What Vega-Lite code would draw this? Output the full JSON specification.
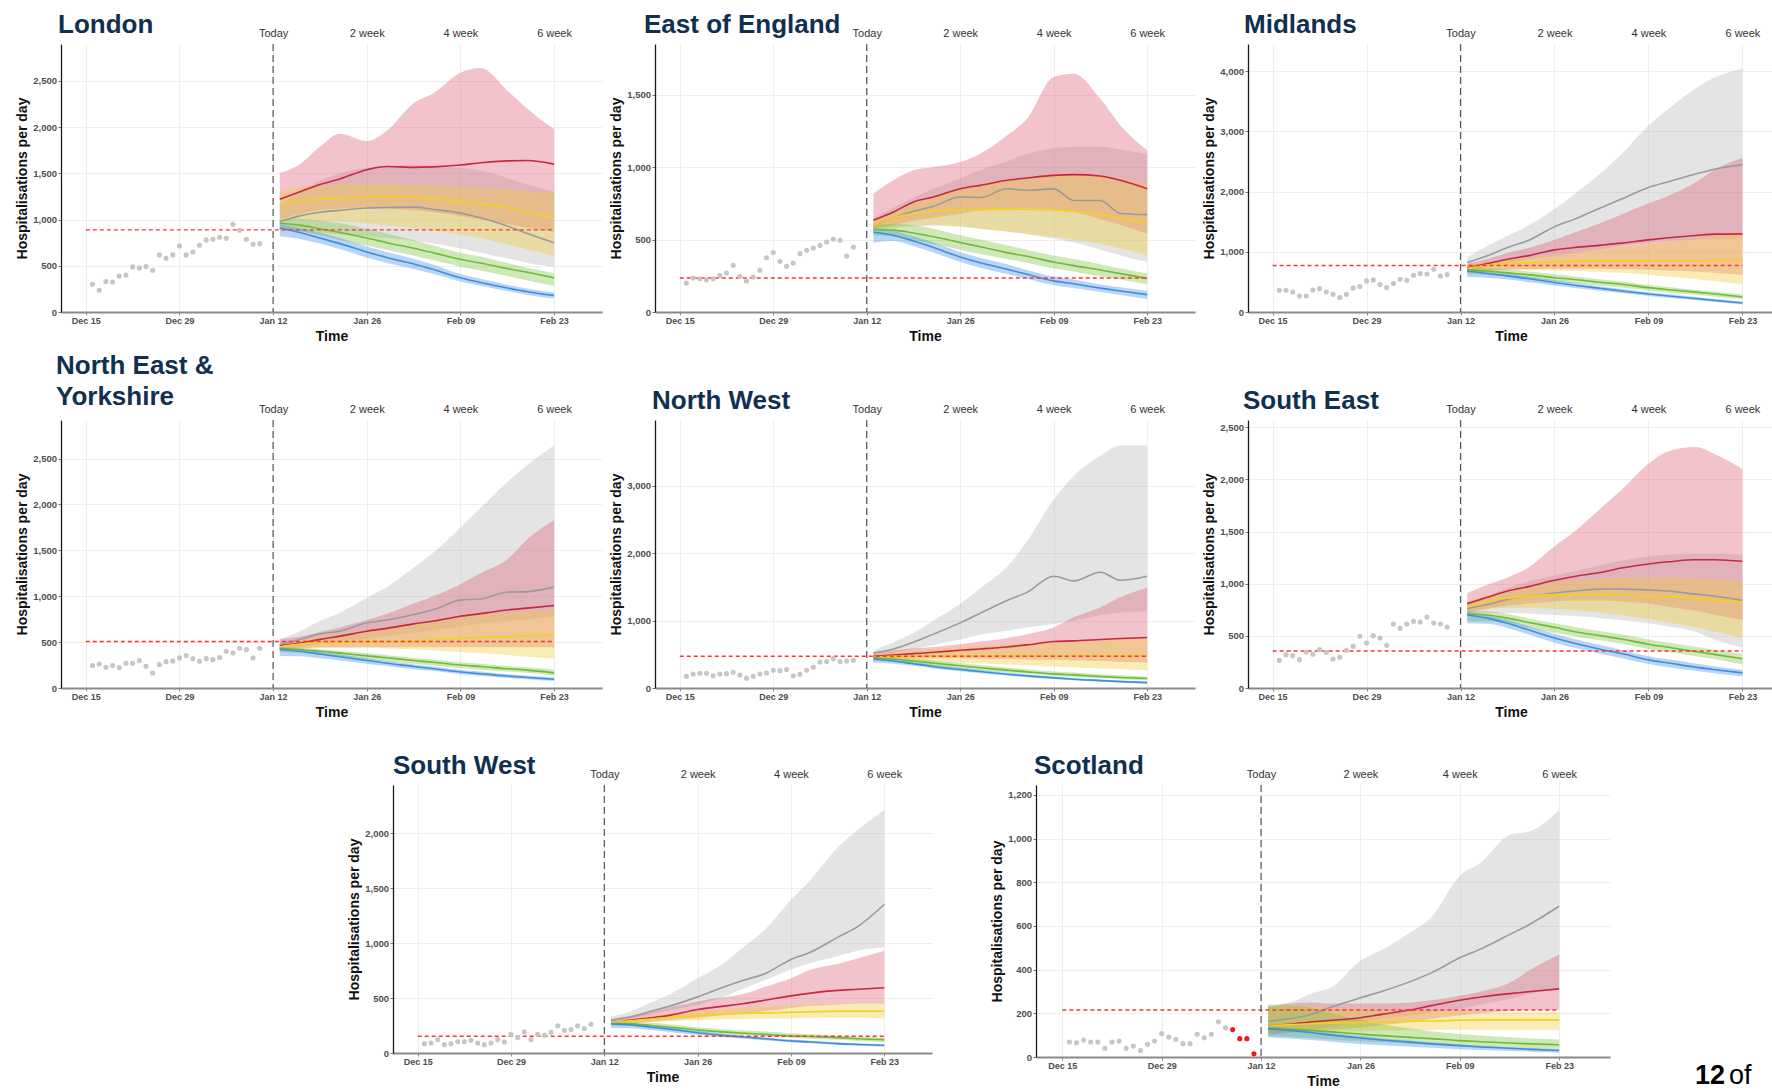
{
"$schema": "https://vega.github.io/schema/vega-lite/v6.json",
"background": "white",
"padding": {"left": 15, "top": 12, "right": 0, "bottom": 0},
"config": {
  "font": "Liberation Sans",
  "view": {"stroke": null},
  "title": {"anchor": "start", "frame": "group", "fontSize": 26, "fontWeight": "bold", "color": "#10304f", "offset": -11, "lineHeight": 31},
  "axisBottom": {"labelFontSize": 9, "labelFontWeight": "bold", "labelColor": "#4d4d4d", "domainColor": "#8a8a8a", "domainWidth": 2, "tickColor": "#8a8a8a", "tickSize": 3, "labelPadding": 1.5, "grid": true, "gridColor": "#eeeeee", "titleFontSize": 14, "titleFontWeight": "bold", "titleColor": "#111111", "titlePadding": 4, "labelFlush": false, "labelOverlap": false},
  "axisLeft": {"labelFontSize": 9.5, "labelFontWeight": "bold", "labelColor": "#4d4d4d", "domainColor": "#1a1a1a", "domainWidth": 1.3, "tickColor": "#777777", "tickSize": 3, "labelPadding": 1.5, "grid": true, "gridColor": "#eeeeee", "titleFontSize": 14, "titleFontWeight": "bold", "titleColor": "#111111", "titlePadding": 3, "labelOverlap": false},
  "axisTop": {"labelFontSize": 11, "labelColor": "#333333", "labelPadding": 6, "ticks": false, "domain": false, "grid": false, "labelFlush": false, "labelOverlap": false}
},
"datasets": {
"ref": [
{"r":"LON","v":889,"d1":"2020/12/15","d2":"2021/02/23"},
{"r":"EOE","v":235,"d1":"2020/12/15","d2":"2021/02/23"},
{"r":"MID","v":771,"d1":"2020/12/15","d2":"2021/02/23"},
{"r":"NEY","v":506,"d1":"2020/12/15","d2":"2021/02/23"},
{"r":"NW","v":471,"d1":"2020/12/15","d2":"2021/02/23"},
{"r":"SE","v":355,"d1":"2020/12/15","d2":"2021/02/23"},
{"r":"SW","v":152,"d1":"2020/12/15","d2":"2021/02/23"},
{"r":"SCO","v":215,"d1":"2020/12/15","d2":"2021/02/23"}
],
"pts": [
{"r":"LON","d":"2020/12/16","v":300},{"r":"LON","d":"2020/12/17","v":235},{"r":"LON","d":"2020/12/18","v":329},{"r":"LON","d":"2020/12/19","v":325},{"r":"LON","d":"2020/12/20","v":390},{"r":"LON","d":"2020/12/21","v":401},{"r":"LON","d":"2020/12/22","v":488},{"r":"LON","d":"2020/12/23","v":477},{"r":"LON","d":"2020/12/24","v":491},{"r":"LON","d":"2020/12/25","v":452},{"r":"LON","d":"2020/12/26","v":618},{"r":"LON","d":"2020/12/27","v":582},{"r":"LON","d":"2020/12/28","v":618},{"r":"LON","d":"2020/12/29","v":715},{"r":"LON","d":"2020/12/30","v":618},{"r":"LON","d":"2020/12/31","v":650},{"r":"LON","d":"2021/01/01","v":723},{"r":"LON","d":"2021/01/02","v":780},{"r":"LON","d":"2021/01/03","v":788},{"r":"LON","d":"2021/01/04","v":809},{"r":"LON","d":"2021/01/05","v":798},{"r":"LON","d":"2021/01/06","v":950},{"r":"LON","d":"2021/01/07","v":885},{"r":"LON","d":"2021/01/08","v":788},{"r":"LON","d":"2021/01/09","v":733},{"r":"LON","d":"2021/01/10","v":740},
{"r":"EOE","d":"2020/12/16","v":200},{"r":"EOE","d":"2020/12/17","v":235},{"r":"EOE","d":"2020/12/18","v":230},{"r":"EOE","d":"2020/12/19","v":223},{"r":"EOE","d":"2020/12/20","v":230},{"r":"EOE","d":"2020/12/21","v":253},{"r":"EOE","d":"2020/12/22","v":269},{"r":"EOE","d":"2020/12/23","v":322},{"r":"EOE","d":"2020/12/24","v":246},{"r":"EOE","d":"2020/12/25","v":214},{"r":"EOE","d":"2020/12/26","v":242},{"r":"EOE","d":"2020/12/27","v":288},{"r":"EOE","d":"2020/12/28","v":375},{"r":"EOE","d":"2020/12/29","v":410},{"r":"EOE","d":"2020/12/30","v":350},{"r":"EOE","d":"2020/12/31","v":315},{"r":"EOE","d":"2021/01/01","v":338},{"r":"EOE","d":"2021/01/02","v":403},{"r":"EOE","d":"2021/01/03","v":426},{"r":"EOE","d":"2021/01/04","v":442},{"r":"EOE","d":"2021/01/05","v":460},{"r":"EOE","d":"2021/01/06","v":483},{"r":"EOE","d":"2021/01/07","v":502},{"r":"EOE","d":"2021/01/08","v":495},{"r":"EOE","d":"2021/01/09","v":386},{"r":"EOE","d":"2021/01/10","v":449},
{"r":"MID","d":"2020/12/16","v":361},{"r":"MID","d":"2020/12/17","v":361},{"r":"MID","d":"2020/12/18","v":333},{"r":"MID","d":"2020/12/19","v":266},{"r":"MID","d":"2020/12/20","v":266},{"r":"MID","d":"2020/12/21","v":366},{"r":"MID","d":"2020/12/22","v":388},{"r":"MID","d":"2020/12/23","v":333},{"r":"MID","d":"2020/12/24","v":294},{"r":"MID","d":"2020/12/25","v":239},{"r":"MID","d":"2020/12/26","v":294},{"r":"MID","d":"2020/12/27","v":400},{"r":"MID","d":"2020/12/28","v":422},{"r":"MID","d":"2020/12/29","v":516},{"r":"MID","d":"2020/12/30","v":533},{"r":"MID","d":"2020/12/31","v":455},{"r":"MID","d":"2021/01/01","v":405},{"r":"MID","d":"2021/01/02","v":472},{"r":"MID","d":"2021/01/03","v":544},{"r":"MID","d":"2021/01/04","v":527},{"r":"MID","d":"2021/01/05","v":610},{"r":"MID","d":"2021/01/06","v":638},{"r":"MID","d":"2021/01/07","v":632},{"r":"MID","d":"2021/01/08","v":710},{"r":"MID","d":"2021/01/09","v":599},{"r":"MID","d":"2021/01/10","v":621},
{"r":"NEY","d":"2020/12/16","v":244},{"r":"NEY","d":"2020/12/17","v":262},{"r":"NEY","d":"2020/12/18","v":226},{"r":"NEY","d":"2020/12/19","v":244},{"r":"NEY","d":"2020/12/20","v":222},{"r":"NEY","d":"2020/12/21","v":269},{"r":"NEY","d":"2020/12/22","v":269},{"r":"NEY","d":"2020/12/23","v":298},{"r":"NEY","d":"2020/12/24","v":237},{"r":"NEY","d":"2020/12/25","v":164},{"r":"NEY","d":"2020/12/26","v":255},{"r":"NEY","d":"2020/12/27","v":287},{"r":"NEY","d":"2020/12/28","v":295},{"r":"NEY","d":"2020/12/29","v":328},{"r":"NEY","d":"2020/12/30","v":353},{"r":"NEY","d":"2020/12/31","v":320},{"r":"NEY","d":"2021/01/01","v":291},{"r":"NEY","d":"2021/01/02","v":320},{"r":"NEY","d":"2021/01/03","v":309},{"r":"NEY","d":"2021/01/04","v":331},{"r":"NEY","d":"2021/01/05","v":400},{"r":"NEY","d":"2021/01/06","v":382},{"r":"NEY","d":"2021/01/07","v":433},{"r":"NEY","d":"2021/01/08","v":418},{"r":"NEY","d":"2021/01/09","v":328},{"r":"NEY","d":"2021/01/10","v":433},
{"r":"NW","d":"2020/12/16","v":174},{"r":"NW","d":"2020/12/17","v":208},{"r":"NW","d":"2020/12/18","v":218},{"r":"NW","d":"2020/12/19","v":218},{"r":"NW","d":"2020/12/20","v":183},{"r":"NW","d":"2020/12/21","v":208},{"r":"NW","d":"2020/12/22","v":213},{"r":"NW","d":"2020/12/23","v":233},{"r":"NW","d":"2020/12/24","v":193},{"r":"NW","d":"2020/12/25","v":144},{"r":"NW","d":"2020/12/26","v":174},{"r":"NW","d":"2020/12/27","v":208},{"r":"NW","d":"2020/12/28","v":223},{"r":"NW","d":"2020/12/29","v":263},{"r":"NW","d":"2020/12/30","v":258},{"r":"NW","d":"2020/12/31","v":273},{"r":"NW","d":"2021/01/01","v":183},{"r":"NW","d":"2021/01/02","v":203},{"r":"NW","d":"2021/01/03","v":263},{"r":"NW","d":"2021/01/04","v":307},{"r":"NW","d":"2021/01/05","v":387},{"r":"NW","d":"2021/01/06","v":392},{"r":"NW","d":"2021/01/07","v":436},{"r":"NW","d":"2021/01/08","v":392},{"r":"NW","d":"2021/01/09","v":402},{"r":"NW","d":"2021/01/10","v":412},
{"r":"SE","d":"2020/12/16","v":265},{"r":"SE","d":"2020/12/17","v":320},{"r":"SE","d":"2020/12/18","v":310},{"r":"SE","d":"2020/12/19","v":272},{"r":"SE","d":"2020/12/20","v":345},{"r":"SE","d":"2020/12/21","v":323},{"r":"SE","d":"2020/12/22","v":368},{"r":"SE","d":"2020/12/23","v":342},{"r":"SE","d":"2020/12/24","v":278},{"r":"SE","d":"2020/12/25","v":294},{"r":"SE","d":"2020/12/26","v":361},{"r":"SE","d":"2020/12/27","v":400},{"r":"SE","d":"2020/12/28","v":496},{"r":"SE","d":"2020/12/29","v":432},{"r":"SE","d":"2020/12/30","v":502},{"r":"SE","d":"2020/12/31","v":480},{"r":"SE","d":"2021/01/01","v":409},{"r":"SE","d":"2021/01/02","v":614},{"r":"SE","d":"2021/01/03","v":572},{"r":"SE","d":"2021/01/04","v":614},{"r":"SE","d":"2021/01/05","v":639},{"r":"SE","d":"2021/01/06","v":633},{"r":"SE","d":"2021/01/07","v":681},{"r":"SE","d":"2021/01/08","v":623},{"r":"SE","d":"2021/01/09","v":614},{"r":"SE","d":"2021/01/10","v":585},
{"r":"SW","d":"2020/12/16","v":85},{"r":"SW","d":"2020/12/17","v":91},{"r":"SW","d":"2020/12/18","v":122},{"r":"SW","d":"2020/12/19","v":76},{"r":"SW","d":"2020/12/20","v":85},{"r":"SW","d":"2020/12/21","v":103},{"r":"SW","d":"2020/12/22","v":103},{"r":"SW","d":"2020/12/23","v":116},{"r":"SW","d":"2020/12/24","v":91},{"r":"SW","d":"2020/12/25","v":76},{"r":"SW","d":"2020/12/26","v":91},{"r":"SW","d":"2020/12/27","v":122},{"r":"SW","d":"2020/12/28","v":100},{"r":"SW","d":"2020/12/29","v":170},{"r":"SW","d":"2020/12/30","v":140},{"r":"SW","d":"2020/12/31","v":192},{"r":"SW","d":"2021/01/01","v":122},{"r":"SW","d":"2021/01/02","v":170},{"r":"SW","d":"2021/01/03","v":161},{"r":"SW","d":"2021/01/04","v":189},{"r":"SW","d":"2021/01/05","v":247},{"r":"SW","d":"2021/01/06","v":207},{"r":"SW","d":"2021/01/07","v":213},{"r":"SW","d":"2021/01/08","v":247},{"r":"SW","d":"2021/01/09","v":222},{"r":"SW","d":"2021/01/10","v":262},
{"r":"SCO","d":"2020/12/16","v":69},{"r":"SCO","d":"2020/12/17","v":65},{"r":"SCO","d":"2020/12/18","v":78},{"r":"SCO","d":"2020/12/19","v":69},{"r":"SCO","d":"2020/12/20","v":69},{"r":"SCO","d":"2020/12/21","v":40},{"r":"SCO","d":"2020/12/22","v":69},{"r":"SCO","d":"2020/12/23","v":73},{"r":"SCO","d":"2020/12/24","v":40},{"r":"SCO","d":"2020/12/25","v":50},{"r":"SCO","d":"2020/12/26","v":30},{"r":"SCO","d":"2020/12/27","v":58},{"r":"SCO","d":"2020/12/28","v":73},{"r":"SCO","d":"2020/12/29","v":107},{"r":"SCO","d":"2020/12/30","v":91},{"r":"SCO","d":"2020/12/31","v":81},{"r":"SCO","d":"2021/01/01","v":61},{"r":"SCO","d":"2021/01/02","v":61},{"r":"SCO","d":"2021/01/03","v":104},{"r":"SCO","d":"2021/01/04","v":88},{"r":"SCO","d":"2021/01/05","v":104},{"r":"SCO","d":"2021/01/06","v":161},{"r":"SCO","d":"2021/01/07","v":134},{"r":"SCO","d":"2021/01/08","v":126,"inc":true},{"r":"SCO","d":"2021/01/09","v":84,"inc":true},{"r":"SCO","d":"2021/01/10","v":84,"inc":true},{"r":"SCO","d":"2021/01/11","v":15,"inc":true}
],
"proj": [
{"r":"LON","s":1,"d":"2021/01/13","lo":880,"hi":1150,"m":980},{"r":"LON","s":1,"d":"2021/01/16","lo":880,"hi":1300,"m":1040},{"r":"LON","s":1,"d":"2021/01/19","lo":860,"hi":1420,"m":1080},{"r":"LON","s":1,"d":"2021/01/22","lo":840,"hi":1500,"m":1100},{"r":"LON","s":1,"d":"2021/01/26","lo":820,"hi":1560,"m":1125},{"r":"LON","s":1,"d":"2021/01/29","lo":800,"hi":1580,"m":1130},{"r":"LON","s":1,"d":"2021/02/02","lo":770,"hi":1590,"m":1135},{"r":"LON","s":1,"d":"2021/02/05","lo":740,"hi":1580,"m":1110},{"r":"LON","s":1,"d":"2021/02/09","lo":690,"hi":1560,"m":1070},{"r":"LON","s":1,"d":"2021/02/12","lo":640,"hi":1530,"m":1020},{"r":"LON","s":1,"d":"2021/02/16","lo":580,"hi":1450,"m":930},{"r":"LON","s":1,"d":"2021/02/19","lo":530,"hi":1380,"m":850},{"r":"LON","s":1,"d":"2021/02/23","lo":490,"hi":1300,"m":750},
{"r":"LON","s":2,"d":"2021/01/13","lo":1000,"hi":1503,"m":1220},{"r":"LON","s":2,"d":"2021/01/16","lo":1060,"hi":1600,"m":1300},{"r":"LON","s":2,"d":"2021/01/19","lo":1100,"hi":1790,"m":1380},{"r":"LON","s":2,"d":"2021/01/22","lo":1120,"hi":1930,"m":1440},{"r":"LON","s":2,"d":"2021/01/26","lo":1130,"hi":1850,"m":1540},{"r":"LON","s":2,"d":"2021/01/29","lo":1120,"hi":1962,"m":1575},{"r":"LON","s":2,"d":"2021/02/02","lo":1100,"hi":2260,"m":1565},{"r":"LON","s":2,"d":"2021/02/05","lo":1080,"hi":2370,"m":1570},{"r":"LON","s":2,"d":"2021/02/09","lo":1040,"hi":2590,"m":1590},{"r":"LON","s":2,"d":"2021/02/12","lo":1000,"hi":2640,"m":1615},{"r":"LON","s":2,"d":"2021/02/16","lo":950,"hi":2400,"m":1635},{"r":"LON","s":2,"d":"2021/02/19","lo":910,"hi":2200,"m":1640},{"r":"LON","s":2,"d":"2021/02/23","lo":870,"hi":1980,"m":1600},
{"r":"LON","s":3,"d":"2021/01/13","lo":1000,"hi":1300,"m":1150},{"r":"LON","s":3,"d":"2021/01/16","lo":1000,"hi":1350,"m":1210},{"r":"LON","s":3,"d":"2021/01/19","lo":990,"hi":1370,"m":1220},{"r":"LON","s":3,"d":"2021/01/22","lo":980,"hi":1380,"m":1230},{"r":"LON","s":3,"d":"2021/01/26","lo":960,"hi":1390,"m":1245},{"r":"LON","s":3,"d":"2021/01/29","lo":940,"hi":1390,"m":1250},{"r":"LON","s":3,"d":"2021/02/02","lo":910,"hi":1380,"m":1245},{"r":"LON","s":3,"d":"2021/02/05","lo":880,"hi":1370,"m":1225},{"r":"LON","s":3,"d":"2021/02/09","lo":840,"hi":1360,"m":1195},{"r":"LON","s":3,"d":"2021/02/12","lo":800,"hi":1350,"m":1170},{"r":"LON","s":3,"d":"2021/02/16","lo":730,"hi":1330,"m":1130},{"r":"LON","s":3,"d":"2021/02/19","lo":680,"hi":1310,"m":1080},{"r":"LON","s":3,"d":"2021/02/23","lo":610,"hi":1290,"m":1020},
{"r":"LON","s":4,"d":"2021/01/13","lo":900,"hi":1000,"m":960},{"r":"LON","s":4,"d":"2021/01/16","lo":870,"hi":1010,"m":940},{"r":"LON","s":4,"d":"2021/01/19","lo":830,"hi":990,"m":900},{"r":"LON","s":4,"d":"2021/01/22","lo":780,"hi":960,"m":860},{"r":"LON","s":4,"d":"2021/01/26","lo":720,"hi":900,"m":800},{"r":"LON","s":4,"d":"2021/01/29","lo":670,"hi":850,"m":750},{"r":"LON","s":4,"d":"2021/02/02","lo":610,"hi":780,"m":690},{"r":"LON","s":4,"d":"2021/02/05","lo":560,"hi":720,"m":640},{"r":"LON","s":4,"d":"2021/02/09","lo":490,"hi":640,"m":570},{"r":"LON","s":4,"d":"2021/02/12","lo":450,"hi":600,"m":530},{"r":"LON","s":4,"d":"2021/02/16","lo":390,"hi":530,"m":470},{"r":"LON","s":4,"d":"2021/02/19","lo":340,"hi":480,"m":430},{"r":"LON","s":4,"d":"2021/02/23","lo":280,"hi":420,"m":370},
{"r":"LON","s":5,"d":"2021/01/13","lo":820,"hi":950,"m":910},{"r":"LON","s":5,"d":"2021/01/16","lo":790,"hi":910,"m":860},{"r":"LON","s":5,"d":"2021/01/19","lo":740,"hi":860,"m":800},{"r":"LON","s":5,"d":"2021/01/22","lo":680,"hi":800,"m":740},{"r":"LON","s":5,"d":"2021/01/26","lo":590,"hi":710,"m":650},{"r":"LON","s":5,"d":"2021/01/29","lo":530,"hi":650,"m":590},{"r":"LON","s":5,"d":"2021/02/02","lo":465,"hi":575,"m":520},{"r":"LON","s":5,"d":"2021/02/05","lo":410,"hi":510,"m":460},{"r":"LON","s":5,"d":"2021/02/09","lo":330,"hi":410,"m":370},{"r":"LON","s":5,"d":"2021/02/12","lo":285,"hi":360,"m":320},{"r":"LON","s":5,"d":"2021/02/16","lo":225,"hi":295,"m":260},{"r":"LON","s":5,"d":"2021/02/19","lo":185,"hi":255,"m":220},{"r":"LON","s":5,"d":"2021/02/23","lo":145,"hi":210,"m":180},
{"r":"EOE","s":1,"d":"2021/01/13","lo":560,"hi":650,"m":600},{"r":"EOE","s":1,"d":"2021/01/16","lo":580,"hi":720,"m":650},{"r":"EOE","s":1,"d":"2021/01/19","lo":590,"hi":790,"m":695},{"r":"EOE","s":1,"d":"2021/01/22","lo":595,"hi":850,"m":730},{"r":"EOE","s":1,"d":"2021/01/26","lo":590,"hi":920,"m":794},{"r":"EOE","s":1,"d":"2021/01/29","lo":575,"hi":980,"m":790},{"r":"EOE","s":1,"d":"2021/02/02","lo":555,"hi":1040,"m":851},{"r":"EOE","s":1,"d":"2021/02/05","lo":535,"hi":1090,"m":840},{"r":"EOE","s":1,"d":"2021/02/09","lo":505,"hi":1130,"m":850},{"r":"EOE","s":1,"d":"2021/02/12","lo":480,"hi":1140,"m":770},{"r":"EOE","s":1,"d":"2021/02/16","lo":430,"hi":1140,"m":770},{"r":"EOE","s":1,"d":"2021/02/19","lo":390,"hi":1120,"m":680},{"r":"EOE","s":1,"d":"2021/02/23","lo":345,"hi":1090,"m":672},
{"r":"EOE","s":2,"d":"2021/01/13","lo":570,"hi":817,"m":633},{"r":"EOE","s":2,"d":"2021/01/16","lo":600,"hi":909,"m":690},{"r":"EOE","s":2,"d":"2021/01/19","lo":630,"hi":978,"m":760},{"r":"EOE","s":2,"d":"2021/01/22","lo":650,"hi":1001,"m":794},{"r":"EOE","s":2,"d":"2021/01/26","lo":680,"hi":1035,"m":851},{"r":"EOE","s":2,"d":"2021/01/29","lo":700,"hi":1093,"m":874},{"r":"EOE","s":2,"d":"2021/02/02","lo":710,"hi":1219,"m":909},{"r":"EOE","s":2,"d":"2021/02/05","lo":715,"hi":1334,"m":925},{"r":"EOE","s":2,"d":"2021/02/09","lo":710,"hi":1622,"m":943},{"r":"EOE","s":2,"d":"2021/02/12","lo":690,"hi":1645,"m":948},{"r":"EOE","s":2,"d":"2021/02/16","lo":640,"hi":1472,"m":939},{"r":"EOE","s":2,"d":"2021/02/19","lo":600,"hi":1288,"m":909},{"r":"EOE","s":2,"d":"2021/02/23","lo":540,"hi":1116,"m":851},
{"r":"EOE","s":3,"d":"2021/01/13","lo":570,"hi":640,"m":600},{"r":"EOE","s":3,"d":"2021/01/16","lo":590,"hi":700,"m":650},{"r":"EOE","s":3,"d":"2021/01/19","lo":600,"hi":760,"m":680},{"r":"EOE","s":3,"d":"2021/01/22","lo":600,"hi":800,"m":695},{"r":"EOE","s":3,"d":"2021/01/26","lo":590,"hi":850,"m":705},{"r":"EOE","s":3,"d":"2021/01/29","lo":575,"hi":880,"m":708},{"r":"EOE","s":3,"d":"2021/02/02","lo":555,"hi":910,"m":710},{"r":"EOE","s":3,"d":"2021/02/05","lo":540,"hi":930,"m":708},{"r":"EOE","s":3,"d":"2021/02/09","lo":520,"hi":950,"m":705},{"r":"EOE","s":3,"d":"2021/02/12","lo":500,"hi":950,"m":695},{"r":"EOE","s":3,"d":"2021/02/16","lo":470,"hi":940,"m":670},{"r":"EOE","s":3,"d":"2021/02/19","lo":440,"hi":920,"m":650},{"r":"EOE","s":3,"d":"2021/02/23","lo":390,"hi":880,"m":615},
{"r":"EOE","s":4,"d":"2021/01/13","lo":530,"hi":600,"m":570},{"r":"EOE","s":4,"d":"2021/01/16","lo":520,"hi":610,"m":565},{"r":"EOE","s":4,"d":"2021/01/19","lo":495,"hi":600,"m":545},{"r":"EOE","s":4,"d":"2021/01/22","lo":470,"hi":575,"m":520},{"r":"EOE","s":4,"d":"2021/01/26","lo":430,"hi":530,"m":480},{"r":"EOE","s":4,"d":"2021/01/29","lo":400,"hi":500,"m":450},{"r":"EOE","s":4,"d":"2021/02/02","lo":365,"hi":460,"m":410},{"r":"EOE","s":4,"d":"2021/02/05","lo":340,"hi":430,"m":385},{"r":"EOE","s":4,"d":"2021/02/09","lo":300,"hi":390,"m":345},{"r":"EOE","s":4,"d":"2021/02/12","lo":280,"hi":365,"m":320},{"r":"EOE","s":4,"d":"2021/02/16","lo":245,"hi":330,"m":290},{"r":"EOE","s":4,"d":"2021/02/19","lo":225,"hi":300,"m":265},{"r":"EOE","s":4,"d":"2021/02/23","lo":190,"hi":265,"m":232},
{"r":"EOE","s":5,"d":"2021/01/13","lo":480,"hi":575,"m":550},{"r":"EOE","s":5,"d":"2021/01/16","lo":490,"hi":560,"m":530},{"r":"EOE","s":5,"d":"2021/01/19","lo":455,"hi":525,"m":490},{"r":"EOE","s":5,"d":"2021/01/22","lo":410,"hi":480,"m":445},{"r":"EOE","s":5,"d":"2021/01/26","lo":345,"hi":415,"m":380},{"r":"EOE","s":5,"d":"2021/01/29","lo":305,"hi":375,"m":340},{"r":"EOE","s":5,"d":"2021/02/02","lo":262,"hi":330,"m":295},{"r":"EOE","s":5,"d":"2021/02/05","lo":230,"hi":290,"m":260},{"r":"EOE","s":5,"d":"2021/02/09","lo":185,"hi":245,"m":215},{"r":"EOE","s":5,"d":"2021/02/12","lo":165,"hi":225,"m":195},{"r":"EOE","s":5,"d":"2021/02/16","lo":138,"hi":190,"m":165},{"r":"EOE","s":5,"d":"2021/02/19","lo":118,"hi":170,"m":145},{"r":"EOE","s":5,"d":"2021/02/23","lo":90,"hi":145,"m":120},
{"r":"MID","s":1,"d":"2021/01/13","lo":700,"hi":904,"m":821},{"r":"MID","s":1,"d":"2021/01/16","lo":760,"hi":1098,"m":932},{"r":"MID","s":1,"d":"2021/01/19","lo":820,"hi":1265,"m":1071},{"r":"MID","s":1,"d":"2021/01/22","lo":870,"hi":1431,"m":1182},{"r":"MID","s":1,"d":"2021/01/26","lo":930,"hi":1709,"m":1415},{"r":"MID","s":1,"d":"2021/01/29","lo":980,"hi":1958,"m":1542},{"r":"MID","s":1,"d":"2021/02/02","lo":1040,"hi":2319,"m":1737},{"r":"MID","s":1,"d":"2021/02/05","lo":1100,"hi":2624,"m":1875},{"r":"MID","s":1,"d":"2021/02/09","lo":1150,"hi":3096,"m":2069},{"r":"MID","s":1,"d":"2021/02/12","lo":1180,"hi":3373,"m":2164},{"r":"MID","s":1,"d":"2021/02/16","lo":1200,"hi":3706,"m":2291},{"r":"MID","s":1,"d":"2021/02/19","lo":1210,"hi":3900,"m":2375},{"r":"MID","s":1,"d":"2021/02/23","lo":1220,"hi":4039,"m":2447},
{"r":"MID","s":2,"d":"2021/01/13","lo":650,"hi":800,"m":732},{"r":"MID","s":2,"d":"2021/01/16","lo":680,"hi":880,"m":804},{"r":"MID","s":2,"d":"2021/01/19","lo":700,"hi":980,"m":877},{"r":"MID","s":2,"d":"2021/01/22","lo":710,"hi":1060,"m":932},{"r":"MID","s":2,"d":"2021/01/26","lo":720,"hi":1200,"m":1032},{"r":"MID","s":2,"d":"2021/01/29","lo":720,"hi":1320,"m":1071},{"r":"MID","s":2,"d":"2021/02/02","lo":720,"hi":1480,"m":1110},{"r":"MID","s":2,"d":"2021/02/05","lo":710,"hi":1620,"m":1143},{"r":"MID","s":2,"d":"2021/02/09","lo":700,"hi":1800,"m":1198},{"r":"MID","s":2,"d":"2021/02/12","lo":690,"hi":1930,"m":1232},{"r":"MID","s":2,"d":"2021/02/16","lo":670,"hi":2150,"m":1270},{"r":"MID","s":2,"d":"2021/02/19","lo":650,"hi":2370,"m":1293},{"r":"MID","s":2,"d":"2021/02/23","lo":620,"hi":2560,"m":1298},
{"r":"MID","s":3,"d":"2021/01/13","lo":680,"hi":780,"m":720},{"r":"MID","s":3,"d":"2021/01/16","lo":700,"hi":830,"m":780},{"r":"MID","s":3,"d":"2021/01/19","lo":700,"hi":870,"m":800},{"r":"MID","s":3,"d":"2021/01/22","lo":695,"hi":900,"m":815},{"r":"MID","s":3,"d":"2021/01/26","lo":690,"hi":950,"m":830},{"r":"MID","s":3,"d":"2021/01/29","lo":680,"hi":990,"m":840},{"r":"MID","s":3,"d":"2021/02/02","lo":665,"hi":1040,"m":845},{"r":"MID","s":3,"d":"2021/02/05","lo":650,"hi":1080,"m":845},{"r":"MID","s":3,"d":"2021/02/09","lo":620,"hi":1130,"m":845},{"r":"MID","s":3,"d":"2021/02/12","lo":590,"hi":1170,"m":848},{"r":"MID","s":3,"d":"2021/02/16","lo":550,"hi":1220,"m":850},{"r":"MID","s":3,"d":"2021/02/19","lo":510,"hi":1260,"m":855},{"r":"MID","s":3,"d":"2021/02/23","lo":460,"hi":1300,"m":860},
{"r":"MID","s":4,"d":"2021/01/13","lo":630,"hi":760,"m":700},{"r":"MID","s":4,"d":"2021/01/16","lo":615,"hi":735,"m":680},{"r":"MID","s":4,"d":"2021/01/19","lo":590,"hi":705,"m":650},{"r":"MID","s":4,"d":"2021/01/22","lo":560,"hi":675,"m":620},{"r":"MID","s":4,"d":"2021/01/26","lo":510,"hi":625,"m":570},{"r":"MID","s":4,"d":"2021/01/29","lo":480,"hi":590,"m":540},{"r":"MID","s":4,"d":"2021/02/02","lo":435,"hi":540,"m":490},{"r":"MID","s":4,"d":"2021/02/05","lo":405,"hi":505,"m":460},{"r":"MID","s":4,"d":"2021/02/09","lo":355,"hi":450,"m":405},{"r":"MID","s":4,"d":"2021/02/12","lo":320,"hi":415,"m":370},{"r":"MID","s":4,"d":"2021/02/16","lo":285,"hi":370,"m":330},{"r":"MID","s":4,"d":"2021/02/19","lo":255,"hi":340,"m":300},{"r":"MID","s":4,"d":"2021/02/23","lo":210,"hi":290,"m":250},
{"r":"MID","s":5,"d":"2021/01/13","lo":580,"hi":720,"m":680},{"r":"MID","s":5,"d":"2021/01/16","lo":570,"hi":680,"m":640},{"r":"MID","s":5,"d":"2021/01/19","lo":540,"hi":640,"m":600},{"r":"MID","s":5,"d":"2021/01/22","lo":500,"hi":595,"m":555},{"r":"MID","s":5,"d":"2021/01/26","lo":440,"hi":530,"m":490},{"r":"MID","s":5,"d":"2021/01/29","lo":400,"hi":485,"m":445},{"r":"MID","s":5,"d":"2021/02/02","lo":350,"hi":425,"m":390},{"r":"MID","s":5,"d":"2021/02/05","lo":315,"hi":385,"m":350},{"r":"MID","s":5,"d":"2021/02/09","lo":265,"hi":330,"m":300},{"r":"MID","s":5,"d":"2021/02/12","lo":235,"hi":295,"m":265},{"r":"MID","s":5,"d":"2021/02/16","lo":195,"hi":250,"m":225},{"r":"MID","s":5,"d":"2021/02/19","lo":165,"hi":215,"m":190},{"r":"MID","s":5,"d":"2021/02/23","lo":125,"hi":175,"m":150},
{"r":"NEY","s":1,"d":"2021/01/13","lo":420,"hi":530,"m":470},{"r":"NEY","s":1,"d":"2021/01/16","lo":450,"hi":619,"m":528},{"r":"NEY","s":1,"d":"2021/01/19","lo":480,"hi":730,"m":590},{"r":"NEY","s":1,"d":"2021/01/22","lo":510,"hi":820,"m":620},{"r":"NEY","s":1,"d":"2021/01/26","lo":540,"hi":983,"m":710},{"r":"NEY","s":1,"d":"2021/01/29","lo":570,"hi":1100,"m":740},{"r":"NEY","s":1,"d":"2021/02/02","lo":600,"hi":1310,"m":800},{"r":"NEY","s":1,"d":"2021/02/05","lo":630,"hi":1480,"m":855},{"r":"NEY","s":1,"d":"2021/02/09","lo":670,"hi":1747,"m":957},{"r":"NEY","s":1,"d":"2021/02/12","lo":700,"hi":1960,"m":970},{"r":"NEY","s":1,"d":"2021/02/16","lo":730,"hi":2245,"m":1044},{"r":"NEY","s":1,"d":"2021/02/19","lo":750,"hi":2430,"m":1050},{"r":"NEY","s":1,"d":"2021/02/23","lo":770,"hi":2646,"m":1099},
{"r":"NEY","s":2,"d":"2021/01/13","lo":420,"hi":530,"m":460},{"r":"NEY","s":2,"d":"2021/01/16","lo":430,"hi":560,"m":490},{"r":"NEY","s":2,"d":"2021/01/19","lo":440,"hi":610,"m":530},{"r":"NEY","s":2,"d":"2021/01/22","lo":440,"hi":660,"m":565},{"r":"NEY","s":2,"d":"2021/01/26","lo":445,"hi":740,"m":619},{"r":"NEY","s":2,"d":"2021/01/29","lo":445,"hi":810,"m":650},{"r":"NEY","s":2,"d":"2021/02/02","lo":445,"hi":920,"m":699},{"r":"NEY","s":2,"d":"2021/02/05","lo":445,"hi":1000,"m":730},{"r":"NEY","s":2,"d":"2021/02/09","lo":445,"hi":1130,"m":782},{"r":"NEY","s":2,"d":"2021/02/12","lo":445,"hi":1250,"m":810},{"r":"NEY","s":2,"d":"2021/02/16","lo":445,"hi":1400,"m":850},{"r":"NEY","s":2,"d":"2021/02/19","lo":445,"hi":1620,"m":870},{"r":"NEY","s":2,"d":"2021/02/23","lo":445,"hi":1830,"m":899},
{"r":"NEY","s":3,"d":"2021/01/13","lo":420,"hi":480,"m":450},{"r":"NEY","s":3,"d":"2021/01/16","lo":430,"hi":520,"m":480},{"r":"NEY","s":3,"d":"2021/01/19","lo":440,"hi":560,"m":495},{"r":"NEY","s":3,"d":"2021/01/22","lo":440,"hi":590,"m":500},{"r":"NEY","s":3,"d":"2021/01/26","lo":440,"hi":630,"m":505},{"r":"NEY","s":3,"d":"2021/01/29","lo":430,"hi":660,"m":510},{"r":"NEY","s":3,"d":"2021/02/02","lo":420,"hi":700,"m":515},{"r":"NEY","s":3,"d":"2021/02/05","lo":410,"hi":730,"m":525},{"r":"NEY","s":3,"d":"2021/02/09","lo":390,"hi":770,"m":540},{"r":"NEY","s":3,"d":"2021/02/12","lo":380,"hi":800,"m":550},{"r":"NEY","s":3,"d":"2021/02/16","lo":360,"hi":820,"m":560},{"r":"NEY","s":3,"d":"2021/02/19","lo":340,"hi":840,"m":570},{"r":"NEY","s":3,"d":"2021/02/23","lo":320,"hi":855,"m":575},
{"r":"NEY","s":4,"d":"2021/01/13","lo":390,"hi":450,"m":430},{"r":"NEY","s":4,"d":"2021/01/16","lo":380,"hi":440,"m":420},{"r":"NEY","s":4,"d":"2021/01/19","lo":360,"hi":425,"m":400},{"r":"NEY","s":4,"d":"2021/01/22","lo":340,"hi":405,"m":380},{"r":"NEY","s":4,"d":"2021/01/26","lo":310,"hi":380,"m":350},{"r":"NEY","s":4,"d":"2021/01/29","lo":290,"hi":360,"m":330},{"r":"NEY","s":4,"d":"2021/02/02","lo":265,"hi":330,"m":300},{"r":"NEY","s":4,"d":"2021/02/05","lo":245,"hi":310,"m":280},{"r":"NEY","s":4,"d":"2021/02/09","lo":215,"hi":280,"m":250},{"r":"NEY","s":4,"d":"2021/02/12","lo":200,"hi":265,"m":235},{"r":"NEY","s":4,"d":"2021/02/16","lo":180,"hi":240,"m":210},{"r":"NEY","s":4,"d":"2021/02/19","lo":165,"hi":225,"m":195},{"r":"NEY","s":4,"d":"2021/02/23","lo":135,"hi":200,"m":165},
{"r":"NEY","s":5,"d":"2021/01/13","lo":350,"hi":440,"m":420},{"r":"NEY","s":5,"d":"2021/01/16","lo":345,"hi":420,"m":400},{"r":"NEY","s":5,"d":"2021/01/19","lo":325,"hi":395,"m":370},{"r":"NEY","s":5,"d":"2021/01/22","lo":300,"hi":365,"m":340},{"r":"NEY","s":5,"d":"2021/01/26","lo":265,"hi":325,"m":300},{"r":"NEY","s":5,"d":"2021/01/29","lo":240,"hi":295,"m":270},{"r":"NEY","s":5,"d":"2021/02/02","lo":205,"hi":260,"m":235},{"r":"NEY","s":5,"d":"2021/02/05","lo":185,"hi":235,"m":210},{"r":"NEY","s":5,"d":"2021/02/09","lo":150,"hi":200,"m":175},{"r":"NEY","s":5,"d":"2021/02/12","lo":132,"hi":180,"m":155},{"r":"NEY","s":5,"d":"2021/02/16","lo":110,"hi":150,"m":130},{"r":"NEY","s":5,"d":"2021/02/19","lo":95,"hi":135,"m":115},{"r":"NEY","s":5,"d":"2021/02/23","lo":75,"hi":115,"m":95},
{"r":"NW","s":1,"d":"2021/01/13","lo":480,"hi":560,"m":520},{"r":"NW","s":1,"d":"2021/01/16","lo":520,"hi":680,"m":580},{"r":"NW","s":1,"d":"2021/01/19","lo":580,"hi":820,"m":680},{"r":"NW","s":1,"d":"2021/01/22","lo":640,"hi":1000,"m":800},{"r":"NW","s":1,"d":"2021/01/26","lo":720,"hi":1250,"m":967},{"r":"NW","s":1,"d":"2021/01/29","lo":790,"hi":1480,"m":1110},{"r":"NW","s":1,"d":"2021/02/02","lo":850,"hi":1800,"m":1300},{"r":"NW","s":1,"d":"2021/02/05","lo":900,"hi":2180,"m":1420},{"r":"NW","s":1,"d":"2021/02/09","lo":950,"hi":2800,"m":1660},{"r":"NW","s":1,"d":"2021/02/12","lo":1000,"hi":3150,"m":1590},{"r":"NW","s":1,"d":"2021/02/16","lo":1080,"hi":3450,"m":1720},{"r":"NW","s":1,"d":"2021/02/19","lo":1120,"hi":3600,"m":1600},{"r":"NW","s":1,"d":"2021/02/23","lo":1140,"hi":3600,"m":1660},
{"r":"NW","s":2,"d":"2021/01/13","lo":430,"hi":530,"m":470},{"r":"NW","s":2,"d":"2021/01/16","lo":440,"hi":560,"m":490},{"r":"NW","s":2,"d":"2021/01/19","lo":440,"hi":590,"m":510},{"r":"NW","s":2,"d":"2021/01/22","lo":440,"hi":610,"m":530},{"r":"NW","s":2,"d":"2021/01/26","lo":440,"hi":650,"m":560},{"r":"NW","s":2,"d":"2021/01/29","lo":435,"hi":690,"m":580},{"r":"NW","s":2,"d":"2021/02/02","lo":430,"hi":740,"m":610},{"r":"NW","s":2,"d":"2021/02/05","lo":425,"hi":800,"m":640},{"r":"NW","s":2,"d":"2021/02/09","lo":420,"hi":900,"m":690},{"r":"NW","s":2,"d":"2021/02/12","lo":410,"hi":1050,"m":700},{"r":"NW","s":2,"d":"2021/02/16","lo":400,"hi":1200,"m":720},{"r":"NW","s":2,"d":"2021/02/19","lo":390,"hi":1350,"m":735},{"r":"NW","s":2,"d":"2021/02/23","lo":380,"hi":1490,"m":750},
{"r":"NW","s":3,"d":"2021/01/13","lo":430,"hi":500,"m":460},{"r":"NW","s":3,"d":"2021/01/16","lo":420,"hi":530,"m":470},{"r":"NW","s":3,"d":"2021/01/19","lo":410,"hi":560,"m":470},{"r":"NW","s":3,"d":"2021/01/22","lo":395,"hi":580,"m":475},{"r":"NW","s":3,"d":"2021/01/26","lo":380,"hi":610,"m":478},{"r":"NW","s":3,"d":"2021/01/29","lo":365,"hi":630,"m":480},{"r":"NW","s":3,"d":"2021/02/02","lo":350,"hi":650,"m":480},{"r":"NW","s":3,"d":"2021/02/05","lo":335,"hi":670,"m":480},{"r":"NW","s":3,"d":"2021/02/09","lo":320,"hi":690,"m":480},{"r":"NW","s":3,"d":"2021/02/12","lo":305,"hi":710,"m":480},{"r":"NW","s":3,"d":"2021/02/16","lo":290,"hi":720,"m":480},{"r":"NW","s":3,"d":"2021/02/19","lo":280,"hi":730,"m":480},{"r":"NW","s":3,"d":"2021/02/23","lo":265,"hi":740,"m":480},
{"r":"NW","s":4,"d":"2021/01/13","lo":400,"hi":480,"m":450},{"r":"NW","s":4,"d":"2021/01/16","lo":385,"hi":465,"m":430},{"r":"NW","s":4,"d":"2021/01/19","lo":360,"hi":440,"m":400},{"r":"NW","s":4,"d":"2021/01/22","lo":330,"hi":410,"m":370},{"r":"NW","s":4,"d":"2021/01/26","lo":290,"hi":370,"m":330},{"r":"NW","s":4,"d":"2021/01/29","lo":265,"hi":340,"m":300},{"r":"NW","s":4,"d":"2021/02/02","lo":230,"hi":305,"m":265},{"r":"NW","s":4,"d":"2021/02/05","lo":210,"hi":280,"m":240},{"r":"NW","s":4,"d":"2021/02/09","lo":180,"hi":245,"m":210},{"r":"NW","s":4,"d":"2021/02/12","lo":165,"hi":230,"m":195},{"r":"NW","s":4,"d":"2021/02/16","lo":145,"hi":205,"m":170},{"r":"NW","s":4,"d":"2021/02/19","lo":130,"hi":190,"m":155},{"r":"NW","s":4,"d":"2021/02/23","lo":115,"hi":170,"m":140},
{"r":"NW","s":5,"d":"2021/01/13","lo":380,"hi":455,"m":430},{"r":"NW","s":5,"d":"2021/01/16","lo":360,"hi":425,"m":400},{"r":"NW","s":5,"d":"2021/01/19","lo":330,"hi":385,"m":360},{"r":"NW","s":5,"d":"2021/01/22","lo":290,"hi":345,"m":320},{"r":"NW","s":5,"d":"2021/01/26","lo":250,"hi":300,"m":275},{"r":"NW","s":5,"d":"2021/01/29","lo":220,"hi":270,"m":245},{"r":"NW","s":5,"d":"2021/02/02","lo":185,"hi":228,"m":205},{"r":"NW","s":5,"d":"2021/02/05","lo":160,"hi":200,"m":180},{"r":"NW","s":5,"d":"2021/02/09","lo":132,"hi":170,"m":150},{"r":"NW","s":5,"d":"2021/02/12","lo":115,"hi":150,"m":130},{"r":"NW","s":5,"d":"2021/02/16","lo":95,"hi":128,"m":110},{"r":"NW","s":5,"d":"2021/02/19","lo":80,"hi":112,"m":95},{"r":"NW","s":5,"d":"2021/02/23","lo":65,"hi":95,"m":80},
{"r":"SE","s":1,"d":"2021/01/13","lo":700,"hi":800,"m":761},{"r":"SE","s":1,"d":"2021/01/16","lo":720,"hi":880,"m":800},{"r":"SE","s":1,"d":"2021/01/19","lo":720,"hi":960,"m":850},{"r":"SE","s":1,"d":"2021/01/22","lo":715,"hi":1020,"m":880},{"r":"SE","s":1,"d":"2021/01/26","lo":700,"hi":1080,"m":911},{"r":"SE","s":1,"d":"2021/01/29","lo":690,"hi":1120,"m":930},{"r":"SE","s":1,"d":"2021/02/02","lo":670,"hi":1180,"m":950},{"r":"SE","s":1,"d":"2021/02/05","lo":650,"hi":1220,"m":950},{"r":"SE","s":1,"d":"2021/02/09","lo":620,"hi":1260,"m":940},{"r":"SE","s":1,"d":"2021/02/12","lo":590,"hi":1280,"m":930},{"r":"SE","s":1,"d":"2021/02/16","lo":540,"hi":1290,"m":900},{"r":"SE","s":1,"d":"2021/02/19","lo":460,"hi":1290,"m":880},{"r":"SE","s":1,"d":"2021/02/23","lo":390,"hi":1280,"m":841},
{"r":"SE","s":2,"d":"2021/01/13","lo":720,"hi":911,"m":809},{"r":"SE","s":2,"d":"2021/01/16","lo":760,"hi":991,"m":870},{"r":"SE","s":2,"d":"2021/01/19","lo":790,"hi":1060,"m":930},{"r":"SE","s":2,"d":"2021/01/22","lo":810,"hi":1150,"m":970},{"r":"SE","s":2,"d":"2021/01/26","lo":830,"hi":1359,"m":1033},{"r":"SE","s":2,"d":"2021/01/29","lo":840,"hi":1500,"m":1070},{"r":"SE","s":2,"d":"2021/02/02","lo":840,"hi":1730,"m":1110},{"r":"SE","s":2,"d":"2021/02/05","lo":830,"hi":1900,"m":1150},{"r":"SE","s":2,"d":"2021/02/09","lo":810,"hi":2150,"m":1189},{"r":"SE","s":2,"d":"2021/02/12","lo":780,"hi":2270,"m":1210},{"r":"SE","s":2,"d":"2021/02/16","lo":740,"hi":2310,"m":1230},{"r":"SE","s":2,"d":"2021/02/19","lo":700,"hi":2240,"m":1230},{"r":"SE","s":2,"d":"2021/02/23","lo":655,"hi":2100,"m":1215},
{"r":"SE","s":3,"d":"2021/01/13","lo":740,"hi":830,"m":780},{"r":"SE","s":3,"d":"2021/01/16","lo":760,"hi":890,"m":830},{"r":"SE","s":3,"d":"2021/01/19","lo":770,"hi":940,"m":860},{"r":"SE","s":3,"d":"2021/01/22","lo":770,"hi":980,"m":880},{"r":"SE","s":3,"d":"2021/01/26","lo":760,"hi":1010,"m":895},{"r":"SE","s":3,"d":"2021/01/29","lo":745,"hi":1030,"m":895},{"r":"SE","s":3,"d":"2021/02/02","lo":720,"hi":1050,"m":895},{"r":"SE","s":3,"d":"2021/02/05","lo":700,"hi":1060,"m":890},{"r":"SE","s":3,"d":"2021/02/09","lo":660,"hi":1060,"m":880},{"r":"SE","s":3,"d":"2021/02/12","lo":630,"hi":1060,"m":875},{"r":"SE","s":3,"d":"2021/02/16","lo":580,"hi":1050,"m":860},{"r":"SE","s":3,"d":"2021/02/19","lo":540,"hi":1040,"m":845},{"r":"SE","s":3,"d":"2021/02/23","lo":480,"hi":1020,"m":815},
{"r":"SE","s":4,"d":"2021/01/13","lo":640,"hi":740,"m":710},{"r":"SE","s":4,"d":"2021/01/16","lo":640,"hi":735,"m":700},{"r":"SE","s":4,"d":"2021/01/19","lo":620,"hi":710,"m":670},{"r":"SE","s":4,"d":"2021/01/22","lo":580,"hi":670,"m":630},{"r":"SE","s":4,"d":"2021/01/26","lo":530,"hi":620,"m":582},{"r":"SE","s":4,"d":"2021/01/29","lo":495,"hi":585,"m":540},{"r":"SE","s":4,"d":"2021/02/02","lo":455,"hi":545,"m":500},{"r":"SE","s":4,"d":"2021/02/05","lo":425,"hi":515,"m":470},{"r":"SE","s":4,"d":"2021/02/09","lo":375,"hi":465,"m":420},{"r":"SE","s":4,"d":"2021/02/12","lo":345,"hi":435,"m":390},{"r":"SE","s":4,"d":"2021/02/16","lo":305,"hi":395,"m":350},{"r":"SE","s":4,"d":"2021/02/19","lo":275,"hi":365,"m":320},{"r":"SE","s":4,"d":"2021/02/23","lo":225,"hi":325,"m":281},
{"r":"SE","s":5,"d":"2021/01/13","lo":620,"hi":730,"m":700},{"r":"SE","s":5,"d":"2021/01/16","lo":615,"hi":700,"m":670},{"r":"SE","s":5,"d":"2021/01/19","lo":575,"hi":655,"m":620},{"r":"SE","s":5,"d":"2021/01/22","lo":515,"hi":595,"m":560},{"r":"SE","s":5,"d":"2021/01/26","lo":435,"hi":520,"m":480},{"r":"SE","s":5,"d":"2021/01/29","lo":385,"hi":470,"m":430},{"r":"SE","s":5,"d":"2021/02/02","lo":325,"hi":410,"m":370},{"r":"SE","s":5,"d":"2021/02/05","lo":285,"hi":365,"m":330},{"r":"SE","s":5,"d":"2021/02/09","lo":230,"hi":305,"m":270},{"r":"SE","s":5,"d":"2021/02/12","lo":200,"hi":275,"m":240},{"r":"SE","s":5,"d":"2021/02/16","lo":165,"hi":235,"m":200},{"r":"SE","s":5,"d":"2021/02/19","lo":140,"hi":205,"m":175},{"r":"SE","s":5,"d":"2021/02/23","lo":110,"hi":175,"m":145},
{"r":"SW","s":1,"d":"2021/01/13","lo":280,"hi":330,"m":298},{"r":"SW","s":1,"d":"2021/01/16","lo":310,"hi":380,"m":330},{"r":"SW","s":1,"d":"2021/01/19","lo":350,"hi":460,"m":380},{"r":"SW","s":1,"d":"2021/01/22","lo":390,"hi":540,"m":430},{"r":"SW","s":1,"d":"2021/01/26","lo":440,"hi":680,"m":511},{"r":"SW","s":1,"d":"2021/01/29","lo":490,"hi":780,"m":580},{"r":"SW","s":1,"d":"2021/02/02","lo":590,"hi":970,"m":664},{"r":"SW","s":1,"d":"2021/02/05","lo":660,"hi":1120,"m":720},{"r":"SW","s":1,"d":"2021/02/09","lo":760,"hi":1394,"m":852},{"r":"SW","s":1,"d":"2021/02/12","lo":820,"hi":1580,"m":920},{"r":"SW","s":1,"d":"2021/02/16","lo":880,"hi":1870,"m":1053},{"r":"SW","s":1,"d":"2021/02/19","lo":930,"hi":2030,"m":1150},{"r":"SW","s":1,"d":"2021/02/23","lo":960,"hi":2213,"m":1352},
{"r":"SW","s":2,"d":"2021/01/13","lo":260,"hi":310,"m":274},{"r":"SW","s":2,"d":"2021/01/16","lo":270,"hi":340,"m":300},{"r":"SW","s":2,"d":"2021/01/19","lo":285,"hi":380,"m":320},{"r":"SW","s":2,"d":"2021/01/22","lo":300,"hi":420,"m":345},{"r":"SW","s":2,"d":"2021/01/26","lo":320,"hi":470,"m":396},{"r":"SW","s":2,"d":"2021/01/29","lo":340,"hi":500,"m":420},{"r":"SW","s":2,"d":"2021/02/02","lo":360,"hi":540,"m":450},{"r":"SW","s":2,"d":"2021/02/05","lo":380,"hi":600,"m":480},{"r":"SW","s":2,"d":"2021/02/09","lo":410,"hi":680,"m":520},{"r":"SW","s":2,"d":"2021/02/12","lo":430,"hi":760,"m":545},{"r":"SW","s":2,"d":"2021/02/16","lo":440,"hi":810,"m":570},{"r":"SW","s":2,"d":"2021/02/19","lo":450,"hi":860,"m":580},{"r":"SW","s":2,"d":"2021/02/23","lo":450,"hi":931,"m":594},
{"r":"SW","s":3,"d":"2021/01/13","lo":260,"hi":290,"m":275},{"r":"SW","s":3,"d":"2021/01/16","lo":270,"hi":315,"m":295},{"r":"SW","s":3,"d":"2021/01/19","lo":280,"hi":340,"m":310},{"r":"SW","s":3,"d":"2021/01/22","lo":290,"hi":360,"m":325},{"r":"SW","s":3,"d":"2021/01/26","lo":300,"hi":385,"m":340},{"r":"SW","s":3,"d":"2021/01/29","lo":305,"hi":400,"m":350},{"r":"SW","s":3,"d":"2021/02/02","lo":310,"hi":415,"m":360},{"r":"SW","s":3,"d":"2021/02/05","lo":315,"hi":425,"m":365},{"r":"SW","s":3,"d":"2021/02/09","lo":315,"hi":435,"m":370},{"r":"SW","s":3,"d":"2021/02/12","lo":318,"hi":445,"m":375},{"r":"SW","s":3,"d":"2021/02/16","lo":320,"hi":450,"m":380},{"r":"SW","s":3,"d":"2021/02/19","lo":320,"hi":455,"m":380},{"r":"SW","s":3,"d":"2021/02/23","lo":313,"hi":460,"m":380},
{"r":"SW","s":4,"d":"2021/01/13","lo":250,"hi":285,"m":268},{"r":"SW","s":4,"d":"2021/01/16","lo":245,"hi":285,"m":265},{"r":"SW","s":4,"d":"2021/01/19","lo":230,"hi":275,"m":250},{"r":"SW","s":4,"d":"2021/01/22","lo":215,"hi":260,"m":235},{"r":"SW","s":4,"d":"2021/01/26","lo":190,"hi":235,"m":210},{"r":"SW","s":4,"d":"2021/01/29","lo":178,"hi":220,"m":195},{"r":"SW","s":4,"d":"2021/02/02","lo":162,"hi":205,"m":180},{"r":"SW","s":4,"d":"2021/02/05","lo":152,"hi":195,"m":170},{"r":"SW","s":4,"d":"2021/02/09","lo":138,"hi":180,"m":155},{"r":"SW","s":4,"d":"2021/02/12","lo":130,"hi":172,"m":150},{"r":"SW","s":4,"d":"2021/02/16","lo":120,"hi":160,"m":140},{"r":"SW","s":4,"d":"2021/02/19","lo":110,"hi":150,"m":130},{"r":"SW","s":4,"d":"2021/02/23","lo":100,"hi":140,"m":122},
{"r":"SW","s":5,"d":"2021/01/13","lo":228,"hi":280,"m":265},{"r":"SW","s":5,"d":"2021/01/16","lo":225,"hi":270,"m":255},{"r":"SW","s":5,"d":"2021/01/19","lo":210,"hi":250,"m":235},{"r":"SW","s":5,"d":"2021/01/22","lo":190,"hi":230,"m":215},{"r":"SW","s":5,"d":"2021/01/26","lo":165,"hi":200,"m":185},{"r":"SW","s":5,"d":"2021/01/29","lo":148,"hi":180,"m":165},{"r":"SW","s":5,"d":"2021/02/02","lo":130,"hi":158,"m":145},{"r":"SW","s":5,"d":"2021/02/05","lo":115,"hi":143,"m":130},{"r":"SW","s":5,"d":"2021/02/09","lo":97,"hi":122,"m":110},{"r":"SW","s":5,"d":"2021/02/12","lo":88,"hi":112,"m":100},{"r":"SW","s":5,"d":"2021/02/16","lo":74,"hi":97,"m":85},{"r":"SW","s":5,"d":"2021/02/19","lo":67,"hi":88,"m":78},{"r":"SW","s":5,"d":"2021/02/23","lo":58,"hi":80,"m":70},
{"r":"SCO","s":1,"d":"2021/01/13","lo":100,"hi":240,"m":164},{"r":"SCO","s":1,"d":"2021/01/16","lo":110,"hi":250,"m":175},{"r":"SCO","s":1,"d":"2021/01/19","lo":125,"hi":290,"m":195},{"r":"SCO","s":1,"d":"2021/01/22","lo":140,"hi":320,"m":230},{"r":"SCO","s":1,"d":"2021/01/26","lo":160,"hi":440,"m":271},{"r":"SCO","s":1,"d":"2021/01/29","lo":175,"hi":490,"m":300},{"r":"SCO","s":1,"d":"2021/02/02","lo":190,"hi":570,"m":345},{"r":"SCO","s":1,"d":"2021/02/05","lo":205,"hi":640,"m":385},{"r":"SCO","s":1,"d":"2021/02/09","lo":220,"hi":830,"m":454},{"r":"SCO","s":1,"d":"2021/02/12","lo":240,"hi":890,"m":495},{"r":"SCO","s":1,"d":"2021/02/16","lo":265,"hi":1017,"m":560},{"r":"SCO","s":1,"d":"2021/02/19","lo":290,"hi":1035,"m":610},{"r":"SCO","s":1,"d":"2021/02/23","lo":310,"hi":1131,"m":690},
{"r":"SCO","s":2,"d":"2021/01/13","lo":110,"hi":230,"m":142},{"r":"SCO","s":2,"d":"2021/01/16","lo":115,"hi":245,"m":150},{"r":"SCO","s":2,"d":"2021/01/19","lo":120,"hi":250,"m":160},{"r":"SCO","s":2,"d":"2021/01/22","lo":125,"hi":245,"m":168},{"r":"SCO","s":2,"d":"2021/01/26","lo":135,"hi":245,"m":180},{"r":"SCO","s":2,"d":"2021/01/29","lo":145,"hi":245,"m":195},{"r":"SCO","s":2,"d":"2021/02/02","lo":160,"hi":250,"m":215},{"r":"SCO","s":2,"d":"2021/02/05","lo":175,"hi":260,"m":235},{"r":"SCO","s":2,"d":"2021/02/09","lo":190,"hi":280,"m":260},{"r":"SCO","s":2,"d":"2021/02/12","lo":200,"hi":300,"m":275},{"r":"SCO","s":2,"d":"2021/02/16","lo":210,"hi":340,"m":290},{"r":"SCO","s":2,"d":"2021/02/19","lo":215,"hi":400,"m":300},{"r":"SCO","s":2,"d":"2021/02/23","lo":215,"hi":469,"m":312},
{"r":"SCO","s":3,"d":"2021/01/13","lo":105,"hi":230,"m":140},{"r":"SCO","s":3,"d":"2021/01/16","lo":110,"hi":235,"m":148},{"r":"SCO","s":3,"d":"2021/01/19","lo":112,"hi":232,"m":152},{"r":"SCO","s":3,"d":"2021/01/22","lo":115,"hi":225,"m":155},{"r":"SCO","s":3,"d":"2021/01/26","lo":118,"hi":220,"m":158},{"r":"SCO","s":3,"d":"2021/01/29","lo":120,"hi":215,"m":160},{"r":"SCO","s":3,"d":"2021/02/02","lo":122,"hi":210,"m":163},{"r":"SCO","s":3,"d":"2021/02/05","lo":124,"hi":210,"m":165},{"r":"SCO","s":3,"d":"2021/02/09","lo":125,"hi":208,"m":168},{"r":"SCO","s":3,"d":"2021/02/12","lo":125,"hi":205,"m":170},{"r":"SCO","s":3,"d":"2021/02/16","lo":125,"hi":205,"m":170},{"r":"SCO","s":3,"d":"2021/02/19","lo":125,"hi":205,"m":170},{"r":"SCO","s":3,"d":"2021/02/23","lo":125,"hi":205,"m":170},
{"r":"SCO","s":4,"d":"2021/01/13","lo":95,"hi":235,"m":132},{"r":"SCO","s":4,"d":"2021/01/16","lo":92,"hi":235,"m":128},{"r":"SCO","s":4,"d":"2021/01/19","lo":87,"hi":225,"m":122},{"r":"SCO","s":4,"d":"2021/01/22","lo":80,"hi":200,"m":115},{"r":"SCO","s":4,"d":"2021/01/26","lo":72,"hi":170,"m":105},{"r":"SCO","s":4,"d":"2021/01/29","lo":67,"hi":150,"m":98},{"r":"SCO","s":4,"d":"2021/02/02","lo":60,"hi":130,"m":90},{"r":"SCO","s":4,"d":"2021/02/05","lo":55,"hi":118,"m":84},{"r":"SCO","s":4,"d":"2021/02/09","lo":48,"hi":105,"m":75},{"r":"SCO","s":4,"d":"2021/02/12","lo":44,"hi":98,"m":70},{"r":"SCO","s":4,"d":"2021/02/16","lo":40,"hi":90,"m":64},{"r":"SCO","s":4,"d":"2021/02/19","lo":37,"hi":85,"m":60},{"r":"SCO","s":4,"d":"2021/02/23","lo":33,"hi":80,"m":56},
{"r":"SCO","s":5,"d":"2021/01/13","lo":90,"hi":140,"m":130},{"r":"SCO","s":5,"d":"2021/01/16","lo":85,"hi":132,"m":122},{"r":"SCO","s":5,"d":"2021/01/19","lo":78,"hi":122,"m":112},{"r":"SCO","s":5,"d":"2021/01/22","lo":70,"hi":110,"m":100},{"r":"SCO","s":5,"d":"2021/01/26","lo":60,"hi":96,"m":87},{"r":"SCO","s":5,"d":"2021/01/29","lo":54,"hi":86,"m":78},{"r":"SCO","s":5,"d":"2021/02/02","lo":47,"hi":75,"m":68},{"r":"SCO","s":5,"d":"2021/02/05","lo":42,"hi":67,"m":60},{"r":"SCO","s":5,"d":"2021/02/09","lo":36,"hi":58,"m":52},{"r":"SCO","s":5,"d":"2021/02/12","lo":32,"hi":52,"m":46},{"r":"SCO","s":5,"d":"2021/02/16","lo":27,"hi":45,"m":40},{"r":"SCO","s":5,"d":"2021/02/19","lo":24,"hi":40,"m":35},{"r":"SCO","s":5,"d":"2021/02/23","lo":20,"hi":35,"m":30}
]
},
"spacing": 33,
"vconcat": [
{"vconcat": [
{"hconcat": [
{"title": {"text": "London", "dx": -3}, "width": 541, "height": 268, "resolve": {"axis": {"x": "independent", "y": "independent"}},
 "layer": [
  {"data": {"name": "proj"}, "transform": [{"filter": "datum.r == 'LON'"}], "mark": {"type": "area", "fillOpacity": 0.38, "interpolate": "monotone"},
   "encoding": {"x": {"field": "d", "type": "temporal", "scale": {"domain": [{"year":2020,"month":12,"date":11,"hours":7},{"year":2021,"month":3,"date":2,"hours":4}], "nice": false}, "axis": {"orient": "bottom", "values": [{"year":2020,"month":12,"date":15},{"year":2020,"month":12,"date":29},{"year":2021,"month":1,"date":12},{"year":2021,"month":1,"date":26},{"year":2021,"month":2,"date":9},{"year":2021,"month":2,"date":23}], "format": "%b %d", "title": "Time"}},
    "y": {"field": "lo", "type": "quantitative", "scale": {"domain": [0, 2900], "nice": false}, "axis": {"orient": "left", "values": [0,500,1000,1500,2000,2500], "format": ",d", "title": "Hospitalisations per day"}},
    "y2": {"field": "hi"},
    "fill": {"field": "s", "type": "nominal", "scale": {"domain": [1,2,3,4,5], "range": ["#b8b8b8","#e0607a","#ecce3a","#7fc241","#4a90e2"]}, "legend": null}}},
  {"data": {"name": "proj"}, "transform": [{"filter": "datum.r == 'LON'"}], "mark": {"type": "line", "strokeWidth": 1.6, "interpolate": "monotone"},
   "encoding": {"x": {"field": "d", "type": "temporal", "axis": null}, "y": {"field": "m", "type": "quantitative", "axis": null},
    "stroke": {"field": "s", "type": "nominal", "scale": {"domain": [1,2,3,4,5], "range": ["#9b9b9b","#c8283f","#f2d21c","#6cbb3a","#3f8de0"]}, "legend": null}}},
  {"data": {"name": "ref"}, "transform": [{"filter": "datum.r == 'LON'"}], "mark": {"type": "rule", "color": "#ff3333", "strokeDash": [4,3], "strokeWidth": 1.4},
   "encoding": {"x": {"field": "d1", "type": "temporal", "axis": null}, "x2": {"field": "d2"}, "y": {"field": "v", "type": "quantitative", "axis": null}}},
  {"data": {"values": [{"d": "2021/01/12"}]}, "mark": {"type": "rule", "color": "#555555", "strokeDash": [7,4], "strokeWidth": 1.2},
   "encoding": {"x": {"field": "d", "type": "temporal", "axis": null}}},
  {"data": {"name": "pts"}, "transform": [{"filter": "datum.r == 'LON'"}], "mark": {"type": "circle", "size": 26, "opacity": 1},
   "encoding": {"x": {"field": "d", "type": "temporal", "axis": {"orient": "top", "values": [{"year":2021,"month":1,"date":12},{"year":2021,"month":1,"date":26},{"year":2021,"month":2,"date":9},{"year":2021,"month":2,"date":23}], "labelExpr": "timeFormat(datum.value,'%m%d')=='0112'?'Today':timeFormat(datum.value,'%m%d')=='0126'?'2 week':timeFormat(datum.value,'%m%d')=='0209'?'4 week':'6 week'", "title": null}},
    "y": {"field": "v", "type": "quantitative", "axis": null},
    "color": {"condition": {"test": "datum.inc", "value": "#ff1111"}, "value": "#c6c6c6"}}}
 ]},
{"title": {"text": "East of England", "dx": -11}, "width": 540, "height": 268, "resolve": {"axis": {"x": "independent", "y": "independent"}},
 "layer": [
  {"data": {"name": "proj"}, "transform": [{"filter": "datum.r == 'EOE'"}], "mark": {"type": "area", "fillOpacity": 0.38, "interpolate": "monotone"},
   "encoding": {"x": {"field": "d", "type": "temporal", "scale": {"domain": [{"year":2020,"month":12,"date":11,"hours":7},{"year":2021,"month":3,"date":2,"hours":4}], "nice": false}, "axis": {"orient": "bottom", "values": [{"year":2020,"month":12,"date":15},{"year":2020,"month":12,"date":29},{"year":2021,"month":1,"date":12},{"year":2021,"month":1,"date":26},{"year":2021,"month":2,"date":9},{"year":2021,"month":2,"date":23}], "format": "%b %d", "title": "Time"}},
    "y": {"field": "lo", "type": "quantitative", "scale": {"domain": [0, 1850], "nice": false}, "axis": {"orient": "left", "values": [0,500,1000,1500], "format": ",d", "title": "Hospitalisations per day"}},
    "y2": {"field": "hi"},
    "fill": {"field": "s", "type": "nominal", "scale": {"domain": [1,2,3,4,5], "range": ["#b8b8b8","#e0607a","#ecce3a","#7fc241","#4a90e2"]}, "legend": null}}},
  {"data": {"name": "proj"}, "transform": [{"filter": "datum.r == 'EOE'"}], "mark": {"type": "line", "strokeWidth": 1.6, "interpolate": "monotone"},
   "encoding": {"x": {"field": "d", "type": "temporal", "axis": null}, "y": {"field": "m", "type": "quantitative", "axis": null},
    "stroke": {"field": "s", "type": "nominal", "scale": {"domain": [1,2,3,4,5], "range": ["#9b9b9b","#c8283f","#f2d21c","#6cbb3a","#3f8de0"]}, "legend": null}}},
  {"data": {"name": "ref"}, "transform": [{"filter": "datum.r == 'EOE'"}], "mark": {"type": "rule", "color": "#ff3333", "strokeDash": [4,3], "strokeWidth": 1.4},
   "encoding": {"x": {"field": "d1", "type": "temporal", "axis": null}, "x2": {"field": "d2"}, "y": {"field": "v", "type": "quantitative", "axis": null}}},
  {"data": {"values": [{"d": "2021/01/12"}]}, "mark": {"type": "rule", "color": "#555555", "strokeDash": [7,4], "strokeWidth": 1.2},
   "encoding": {"x": {"field": "d", "type": "temporal", "axis": null}}},
  {"data": {"name": "pts"}, "transform": [{"filter": "datum.r == 'EOE'"}], "mark": {"type": "circle", "size": 26, "opacity": 1},
   "encoding": {"x": {"field": "d", "type": "temporal", "axis": {"orient": "top", "values": [{"year":2021,"month":1,"date":12},{"year":2021,"month":1,"date":26},{"year":2021,"month":2,"date":9},{"year":2021,"month":2,"date":23}], "labelExpr": "timeFormat(datum.value,'%m%d')=='0112'?'Today':timeFormat(datum.value,'%m%d')=='0126'?'2 week':timeFormat(datum.value,'%m%d')=='0209'?'4 week':'6 week'", "title": null}},
    "y": {"field": "v", "type": "quantitative", "axis": null},
    "color": {"condition": {"test": "datum.inc", "value": "#ff1111"}, "value": "#c6c6c6"}}}
 ]},
{"title": {"text": "Midlands", "dx": -4}, "width": 526, "height": 268, "resolve": {"axis": {"x": "independent", "y": "independent"}},
 "layer": [
  {"data": {"name": "proj"}, "transform": [{"filter": "datum.r == 'MID'"}], "mark": {"type": "area", "fillOpacity": 0.38, "interpolate": "monotone"},
   "encoding": {"x": {"field": "d", "type": "temporal", "scale": {"domain": [{"year":2020,"month":12,"date":11,"hours":8},{"year":2021,"month":2,"date":27,"hours":17}], "nice": false}, "axis": {"orient": "bottom", "values": [{"year":2020,"month":12,"date":15},{"year":2020,"month":12,"date":29},{"year":2021,"month":1,"date":12},{"year":2021,"month":1,"date":26},{"year":2021,"month":2,"date":9},{"year":2021,"month":2,"date":23}], "format": "%b %d", "title": "Time"}},
    "y": {"field": "lo", "type": "quantitative", "scale": {"domain": [0, 4450], "nice": false}, "axis": {"orient": "left", "values": [0,1000,2000,3000,4000], "format": ",d", "title": "Hospitalisations per day"}},
    "y2": {"field": "hi"},
    "fill": {"field": "s", "type": "nominal", "scale": {"domain": [1,2,3,4,5], "range": ["#b8b8b8","#e0607a","#ecce3a","#7fc241","#4a90e2"]}, "legend": null}}},
  {"data": {"name": "proj"}, "transform": [{"filter": "datum.r == 'MID'"}], "mark": {"type": "line", "strokeWidth": 1.6, "interpolate": "monotone"},
   "encoding": {"x": {"field": "d", "type": "temporal", "axis": null}, "y": {"field": "m", "type": "quantitative", "axis": null},
    "stroke": {"field": "s", "type": "nominal", "scale": {"domain": [1,2,3,4,5], "range": ["#9b9b9b","#c8283f","#f2d21c","#6cbb3a","#3f8de0"]}, "legend": null}}},
  {"data": {"name": "ref"}, "transform": [{"filter": "datum.r == 'MID'"}], "mark": {"type": "rule", "color": "#ff3333", "strokeDash": [4,3], "strokeWidth": 1.4},
   "encoding": {"x": {"field": "d1", "type": "temporal", "axis": null}, "x2": {"field": "d2"}, "y": {"field": "v", "type": "quantitative", "axis": null}}},
  {"data": {"values": [{"d": "2021/01/12"}]}, "mark": {"type": "rule", "color": "#555555", "strokeDash": [7,4], "strokeWidth": 1.2},
   "encoding": {"x": {"field": "d", "type": "temporal", "axis": null}}},
  {"data": {"name": "pts"}, "transform": [{"filter": "datum.r == 'MID'"}], "mark": {"type": "circle", "size": 26, "opacity": 1},
   "encoding": {"x": {"field": "d", "type": "temporal", "axis": {"orient": "top", "values": [{"year":2021,"month":1,"date":12},{"year":2021,"month":1,"date":26},{"year":2021,"month":2,"date":9},{"year":2021,"month":2,"date":23}], "labelExpr": "timeFormat(datum.value,'%m%d')=='0112'?'Today':timeFormat(datum.value,'%m%d')=='0126'?'2 week':timeFormat(datum.value,'%m%d')=='0209'?'4 week':'6 week'", "title": null}},
    "y": {"field": "v", "type": "quantitative", "axis": null},
    "color": {"condition": {"test": "datum.inc", "value": "#ff1111"}, "value": "#c6c6c6"}}}
 ]}
], "spacing": 53, "bounds": "flush"},
{"hconcat": [
{"title": {"text": ["North East &", "Yorkshire"], "dx": -5, "dy": -4}, "width": 541, "height": 268, "resolve": {"axis": {"x": "independent", "y": "independent"}},
 "layer": [
  {"data": {"name": "proj"}, "transform": [{"filter": "datum.r == 'NEY'"}], "mark": {"type": "area", "fillOpacity": 0.38, "interpolate": "monotone"},
   "encoding": {"x": {"field": "d", "type": "temporal", "scale": {"domain": [{"year":2020,"month":12,"date":11,"hours":7},{"year":2021,"month":3,"date":2,"hours":4}], "nice": false}, "axis": {"orient": "bottom", "values": [{"year":2020,"month":12,"date":15},{"year":2020,"month":12,"date":29},{"year":2021,"month":1,"date":12},{"year":2021,"month":1,"date":26},{"year":2021,"month":2,"date":9},{"year":2021,"month":2,"date":23}], "format": "%b %d", "title": "Time"}},
    "y": {"field": "lo", "type": "quantitative", "scale": {"domain": [0, 2920], "nice": false}, "axis": {"orient": "left", "values": [0,500,1000,1500,2000,2500], "format": ",d", "title": "Hospitalisations per day"}},
    "y2": {"field": "hi"},
    "fill": {"field": "s", "type": "nominal", "scale": {"domain": [1,2,3,4,5], "range": ["#b8b8b8","#e0607a","#ecce3a","#7fc241","#4a90e2"]}, "legend": null}}},
  {"data": {"name": "proj"}, "transform": [{"filter": "datum.r == 'NEY'"}], "mark": {"type": "line", "strokeWidth": 1.6, "interpolate": "monotone"},
   "encoding": {"x": {"field": "d", "type": "temporal", "axis": null}, "y": {"field": "m", "type": "quantitative", "axis": null},
    "stroke": {"field": "s", "type": "nominal", "scale": {"domain": [1,2,3,4,5], "range": ["#9b9b9b","#c8283f","#f2d21c","#6cbb3a","#3f8de0"]}, "legend": null}}},
  {"data": {"name": "ref"}, "transform": [{"filter": "datum.r == 'NEY'"}], "mark": {"type": "rule", "color": "#ff3333", "strokeDash": [4,3], "strokeWidth": 1.4},
   "encoding": {"x": {"field": "d1", "type": "temporal", "axis": null}, "x2": {"field": "d2"}, "y": {"field": "v", "type": "quantitative", "axis": null}}},
  {"data": {"values": [{"d": "2021/01/12"}]}, "mark": {"type": "rule", "color": "#555555", "strokeDash": [7,4], "strokeWidth": 1.2},
   "encoding": {"x": {"field": "d", "type": "temporal", "axis": null}}},
  {"data": {"name": "pts"}, "transform": [{"filter": "datum.r == 'NEY'"}], "mark": {"type": "circle", "size": 26, "opacity": 1},
   "encoding": {"x": {"field": "d", "type": "temporal", "axis": {"orient": "top", "values": [{"year":2021,"month":1,"date":12},{"year":2021,"month":1,"date":26},{"year":2021,"month":2,"date":9},{"year":2021,"month":2,"date":23}], "labelExpr": "timeFormat(datum.value,'%m%d')=='0112'?'Today':timeFormat(datum.value,'%m%d')=='0126'?'2 week':timeFormat(datum.value,'%m%d')=='0209'?'4 week':'6 week'", "title": null}},
    "y": {"field": "v", "type": "quantitative", "axis": null},
    "color": {"condition": {"test": "datum.inc", "value": "#ff1111"}, "value": "#c6c6c6"}}}
 ]},
{"title": {"text": "North West", "dx": -3}, "width": 540, "height": 268, "resolve": {"axis": {"x": "independent", "y": "independent"}},
 "layer": [
  {"data": {"name": "proj"}, "transform": [{"filter": "datum.r == 'NW'"}], "mark": {"type": "area", "fillOpacity": 0.38, "interpolate": "monotone"},
   "encoding": {"x": {"field": "d", "type": "temporal", "scale": {"domain": [{"year":2020,"month":12,"date":11,"hours":7},{"year":2021,"month":3,"date":2,"hours":4}], "nice": false}, "axis": {"orient": "bottom", "values": [{"year":2020,"month":12,"date":15},{"year":2020,"month":12,"date":29},{"year":2021,"month":1,"date":12},{"year":2021,"month":1,"date":26},{"year":2021,"month":2,"date":9},{"year":2021,"month":2,"date":23}], "format": "%b %d", "title": "Time"}},
    "y": {"field": "lo", "type": "quantitative", "scale": {"domain": [0, 3980], "nice": false}, "axis": {"orient": "left", "values": [0,1000,2000,3000], "format": ",d", "title": "Hospitalisations per day"}},
    "y2": {"field": "hi"},
    "fill": {"field": "s", "type": "nominal", "scale": {"domain": [1,2,3,4,5], "range": ["#b8b8b8","#e0607a","#ecce3a","#7fc241","#4a90e2"]}, "legend": null}}},
  {"data": {"name": "proj"}, "transform": [{"filter": "datum.r == 'NW'"}], "mark": {"type": "line", "strokeWidth": 1.6, "interpolate": "monotone"},
   "encoding": {"x": {"field": "d", "type": "temporal", "axis": null}, "y": {"field": "m", "type": "quantitative", "axis": null},
    "stroke": {"field": "s", "type": "nominal", "scale": {"domain": [1,2,3,4,5], "range": ["#9b9b9b","#c8283f","#f2d21c","#6cbb3a","#3f8de0"]}, "legend": null}}},
  {"data": {"name": "ref"}, "transform": [{"filter": "datum.r == 'NW'"}], "mark": {"type": "rule", "color": "#ff3333", "strokeDash": [4,3], "strokeWidth": 1.4},
   "encoding": {"x": {"field": "d1", "type": "temporal", "axis": null}, "x2": {"field": "d2"}, "y": {"field": "v", "type": "quantitative", "axis": null}}},
  {"data": {"values": [{"d": "2021/01/12"}]}, "mark": {"type": "rule", "color": "#555555", "strokeDash": [7,4], "strokeWidth": 1.2},
   "encoding": {"x": {"field": "d", "type": "temporal", "axis": null}}},
  {"data": {"name": "pts"}, "transform": [{"filter": "datum.r == 'NW'"}], "mark": {"type": "circle", "size": 26, "opacity": 1},
   "encoding": {"x": {"field": "d", "type": "temporal", "axis": {"orient": "top", "values": [{"year":2021,"month":1,"date":12},{"year":2021,"month":1,"date":26},{"year":2021,"month":2,"date":9},{"year":2021,"month":2,"date":23}], "labelExpr": "timeFormat(datum.value,'%m%d')=='0112'?'Today':timeFormat(datum.value,'%m%d')=='0126'?'2 week':timeFormat(datum.value,'%m%d')=='0209'?'4 week':'6 week'", "title": null}},
    "y": {"field": "v", "type": "quantitative", "axis": null},
    "color": {"condition": {"test": "datum.inc", "value": "#ff1111"}, "value": "#c6c6c6"}}}
 ]},
{"title": {"text": "South East", "dx": -5}, "width": 526, "height": 268, "resolve": {"axis": {"x": "independent", "y": "independent"}},
 "layer": [
  {"data": {"name": "proj"}, "transform": [{"filter": "datum.r == 'SE'"}], "mark": {"type": "area", "fillOpacity": 0.38, "interpolate": "monotone"},
   "encoding": {"x": {"field": "d", "type": "temporal", "scale": {"domain": [{"year":2020,"month":12,"date":11,"hours":8},{"year":2021,"month":2,"date":27,"hours":17}], "nice": false}, "axis": {"orient": "bottom", "values": [{"year":2020,"month":12,"date":15},{"year":2020,"month":12,"date":29},{"year":2021,"month":1,"date":12},{"year":2021,"month":1,"date":26},{"year":2021,"month":2,"date":9},{"year":2021,"month":2,"date":23}], "format": "%b %d", "title": "Time"}},
    "y": {"field": "lo", "type": "quantitative", "scale": {"domain": [0, 2570], "nice": false}, "axis": {"orient": "left", "values": [0,500,1000,1500,2000,2500], "format": ",d", "title": "Hospitalisations per day"}},
    "y2": {"field": "hi"},
    "fill": {"field": "s", "type": "nominal", "scale": {"domain": [1,2,3,4,5], "range": ["#b8b8b8","#e0607a","#ecce3a","#7fc241","#4a90e2"]}, "legend": null}}},
  {"data": {"name": "proj"}, "transform": [{"filter": "datum.r == 'SE'"}], "mark": {"type": "line", "strokeWidth": 1.6, "interpolate": "monotone"},
   "encoding": {"x": {"field": "d", "type": "temporal", "axis": null}, "y": {"field": "m", "type": "quantitative", "axis": null},
    "stroke": {"field": "s", "type": "nominal", "scale": {"domain": [1,2,3,4,5], "range": ["#9b9b9b","#c8283f","#f2d21c","#6cbb3a","#3f8de0"]}, "legend": null}}},
  {"data": {"name": "ref"}, "transform": [{"filter": "datum.r == 'SE'"}], "mark": {"type": "rule", "color": "#ff3333", "strokeDash": [4,3], "strokeWidth": 1.4},
   "encoding": {"x": {"field": "d1", "type": "temporal", "axis": null}, "x2": {"field": "d2"}, "y": {"field": "v", "type": "quantitative", "axis": null}}},
  {"data": {"values": [{"d": "2021/01/12"}]}, "mark": {"type": "rule", "color": "#555555", "strokeDash": [7,4], "strokeWidth": 1.2},
   "encoding": {"x": {"field": "d", "type": "temporal", "axis": null}}},
  {"data": {"name": "pts"}, "transform": [{"filter": "datum.r == 'SE'"}], "mark": {"type": "circle", "size": 26, "opacity": 1},
   "encoding": {"x": {"field": "d", "type": "temporal", "axis": {"orient": "top", "values": [{"year":2021,"month":1,"date":12},{"year":2021,"month":1,"date":26},{"year":2021,"month":2,"date":9},{"year":2021,"month":2,"date":23}], "labelExpr": "timeFormat(datum.value,'%m%d')=='0112'?'Today':timeFormat(datum.value,'%m%d')=='0126'?'2 week':timeFormat(datum.value,'%m%d')=='0209'?'4 week':'6 week'", "title": null}},
    "y": {"field": "v", "type": "quantitative", "axis": null},
    "color": {"condition": {"test": "datum.inc", "value": "#ff1111"}, "value": "#c6c6c6"}}}
 ]}
], "spacing": 53, "bounds": "flush"}
], "spacing": 9},
{"hconcat": [
{"width": 228, "height": 10, "data": {"values": [{}]}, "mark": {"type": "rect", "opacity": 0}, "encoding": {}},
{"title": {"text": "South West", "dx": 0}, "width": 539, "height": 268, "resolve": {"axis": {"x": "independent", "y": "independent"}},
 "layer": [
  {"data": {"name": "proj"}, "transform": [{"filter": "datum.r == 'SW'"}], "mark": {"type": "area", "fillOpacity": 0.38, "interpolate": "monotone"},
   "encoding": {"x": {"field": "d", "type": "temporal", "scale": {"domain": [{"year":2020,"month":12,"date":11,"hours":7},{"year":2021,"month":3,"date":2,"hours":4}], "nice": false}, "axis": {"orient": "bottom", "values": [{"year":2020,"month":12,"date":15},{"year":2020,"month":12,"date":29},{"year":2021,"month":1,"date":12},{"year":2021,"month":1,"date":26},{"year":2021,"month":2,"date":9},{"year":2021,"month":2,"date":23}], "format": "%b %d", "title": "Time"}},
    "y": {"field": "lo", "type": "quantitative", "scale": {"domain": [0, 2440], "nice": false}, "axis": {"orient": "left", "values": [0,500,1000,1500,2000], "format": ",d", "title": "Hospitalisations per day"}},
    "y2": {"field": "hi"},
    "fill": {"field": "s", "type": "nominal", "scale": {"domain": [1,2,3,4,5], "range": ["#b8b8b8","#e0607a","#ecce3a","#7fc241","#4a90e2"]}, "legend": null}}},
  {"data": {"name": "proj"}, "transform": [{"filter": "datum.r == 'SW'"}], "mark": {"type": "line", "strokeWidth": 1.6, "interpolate": "monotone"},
   "encoding": {"x": {"field": "d", "type": "temporal", "axis": null}, "y": {"field": "m", "type": "quantitative", "axis": null},
    "stroke": {"field": "s", "type": "nominal", "scale": {"domain": [1,2,3,4,5], "range": ["#9b9b9b","#c8283f","#f2d21c","#6cbb3a","#3f8de0"]}, "legend": null}}},
  {"data": {"name": "ref"}, "transform": [{"filter": "datum.r == 'SW'"}], "mark": {"type": "rule", "color": "#ff3333", "strokeDash": [4,3], "strokeWidth": 1.4},
   "encoding": {"x": {"field": "d1", "type": "temporal", "axis": null}, "x2": {"field": "d2"}, "y": {"field": "v", "type": "quantitative", "axis": null}}},
  {"data": {"values": [{"d": "2021/01/12"}]}, "mark": {"type": "rule", "color": "#555555", "strokeDash": [7,4], "strokeWidth": 1.2},
   "encoding": {"x": {"field": "d", "type": "temporal", "axis": null}}},
  {"data": {"name": "pts"}, "transform": [{"filter": "datum.r == 'SW'"}], "mark": {"type": "circle", "size": 26, "opacity": 1},
   "encoding": {"x": {"field": "d", "type": "temporal", "axis": {"orient": "top", "values": [{"year":2021,"month":1,"date":12},{"year":2021,"month":1,"date":26},{"year":2021,"month":2,"date":9},{"year":2021,"month":2,"date":23}], "labelExpr": "timeFormat(datum.value,'%m%d')=='0112'?'Today':timeFormat(datum.value,'%m%d')=='0126'?'2 week':timeFormat(datum.value,'%m%d')=='0209'?'4 week':'6 week'", "title": null}},
    "y": {"field": "v", "type": "quantitative", "axis": null},
    "color": {"condition": {"test": "datum.inc", "value": "#ff1111"}, "value": "#c6c6c6"}}}
 ]},
{"title": {"text": "Scotland", "dx": -2}, "width": 574, "height": 272, "resolve": {"axis": {"x": "independent", "y": "independent"}},
 "layer": [
  {"data": {"name": "proj"}, "transform": [{"filter": "datum.r == 'SCO'"}], "mark": {"type": "area", "fillOpacity": 0.38, "interpolate": "monotone"},
   "encoding": {"x": {"field": "d", "type": "temporal", "scale": {"domain": [{"year":2020,"month":12,"date":11,"hours":7},{"year":2021,"month":3,"date":2,"hours":4}], "nice": false}, "axis": {"orient": "bottom", "values": [{"year":2020,"month":12,"date":15},{"year":2020,"month":12,"date":29},{"year":2021,"month":1,"date":12},{"year":2021,"month":1,"date":26},{"year":2021,"month":2,"date":9},{"year":2021,"month":2,"date":23}], "format": "%b %d", "title": "Time"}},
    "y": {"field": "lo", "type": "quantitative", "scale": {"domain": [0, 1245], "nice": false}, "axis": {"orient": "left", "values": [0,200,400,600,800,1000,1200], "format": ",d", "title": "Hospitalisations per day"}},
    "y2": {"field": "hi"},
    "fill": {"field": "s", "type": "nominal", "scale": {"domain": [1,2,3,4,5], "range": ["#b8b8b8","#e0607a","#ecce3a","#7fc241","#4a90e2"]}, "legend": null}}},
  {"data": {"name": "proj"}, "transform": [{"filter": "datum.r == 'SCO'"}], "mark": {"type": "line", "strokeWidth": 1.6, "interpolate": "monotone"},
   "encoding": {"x": {"field": "d", "type": "temporal", "axis": null}, "y": {"field": "m", "type": "quantitative", "axis": null},
    "stroke": {"field": "s", "type": "nominal", "scale": {"domain": [1,2,3,4,5], "range": ["#9b9b9b","#c8283f","#f2d21c","#6cbb3a","#3f8de0"]}, "legend": null}}},
  {"data": {"name": "ref"}, "transform": [{"filter": "datum.r == 'SCO'"}], "mark": {"type": "rule", "color": "#ff3333", "strokeDash": [4,3], "strokeWidth": 1.4},
   "encoding": {"x": {"field": "d1", "type": "temporal", "axis": null}, "x2": {"field": "d2"}, "y": {"field": "v", "type": "quantitative", "axis": null}}},
  {"data": {"values": [{"d": "2021/01/12"}]}, "mark": {"type": "rule", "color": "#555555", "strokeDash": [7,4], "strokeWidth": 1.2},
   "encoding": {"x": {"field": "d", "type": "temporal", "axis": null}}},
  {"data": {"name": "pts"}, "transform": [{"filter": "datum.r == 'SCO'"}], "mark": {"type": "circle", "size": 26, "opacity": 1},
   "encoding": {"x": {"field": "d", "type": "temporal", "axis": {"orient": "top", "values": [{"year":2021,"month":1,"date":12},{"year":2021,"month":1,"date":26},{"year":2021,"month":2,"date":9},{"year":2021,"month":2,"date":23}], "labelExpr": "timeFormat(datum.value,'%m%d')=='0112'?'Today':timeFormat(datum.value,'%m%d')=='0126'?'2 week':timeFormat(datum.value,'%m%d')=='0209'?'4 week':'6 week'", "title": null}},
    "y": {"field": "v", "type": "quantitative", "axis": null},
    "color": {"condition": {"test": "datum.inc", "value": "#ff1111"}, "value": "#c6c6c6"}}}
 ]},
{"width": 26, "height": 272, "data": {"values": [{"a": "12", "b": "of"}]},
 "layer": [
  {"mark": {"type": "text", "fontSize": 27, "fontWeight": "bold", "align": "right", "baseline": "alphabetic", "dx": -2, "dy": 27, "color": "#000000"},
   "encoding": {"text": {"field": "a"}, "y": {"datum": 0, "type": "quantitative", "scale": {"domain": [0, 1]}, "axis": null}}},
  {"mark": {"type": "text", "fontSize": 27, "fontWeight": "normal", "align": "left", "baseline": "alphabetic", "dx": 2, "dy": 27, "color": "#000000"},
   "encoding": {"text": {"field": "b"}, "y": {"datum": 0, "type": "quantitative", "scale": {"domain": [0, 1]}, "axis": null}}}
 ]}
], "spacing": 104, "bounds": "flush"}
]
}
